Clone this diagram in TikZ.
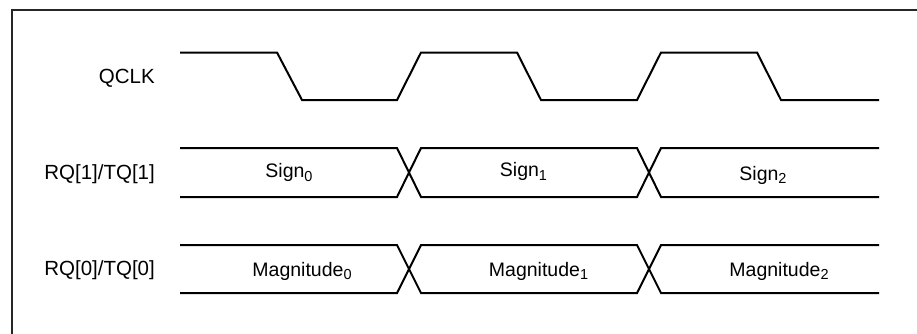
\documentclass[tikz,border=0pt]{standalone}
\usepackage{fontspec}
\setmainfont{Liberation Sans}
\newcommand\mysubs[1]{\raisebox{-3.5pt}{\fontsize{14.5}{15}\selectfont #1}}
\begin{document}
\begin{tikzpicture}[x=1pt,y=-1pt,
  wave/.style={line width=2pt, line join=miter},
  frame/.style={line width=1.8pt, draw=black!85},
  lbl/.style={font=\fontsize{20.5}{24}\selectfont, inner sep=0pt, anchor=base east},
  val/.style={font=\fontsize{19.5}{23}\selectfont, inner sep=0pt, anchor=base}]
\useasboundingbox (0,0) rectangle (917,333);
\clip (0,0) rectangle (917,333);
\draw[frame] (12,345) -- (12,10) -- (935,10);
% labels
\node[lbl] (qclk) at (155,83) {QCLK};
\node[lbl] (rq1) at (155,179) {RQ[1]/TQ[1]};
\node[lbl] (rq0) at (155,275.5) {RQ[0]/TQ[0]};
% clock
\draw[wave] (180,52.5)--(277,52.5)--(302,100)--(397,100)--(421,52.5)--(517,52.5)--(541,100)--(637,100)--(661,52.5)--(757,52.5)--(781,100)--(879,100);
% bus 1
\draw[wave] (180,148)--(397,148)--(421,197)--(637,197)--(661,148)--(879,148);
\draw[wave] (180,197)--(397,197)--(421,148)--(637,148)--(661,197)--(879,197);
% bus 0
\draw[wave] (180,245)--(397,245)--(421,293)--(637,293)--(661,245)--(879,245);
\draw[wave] (180,293)--(397,293)--(421,245)--(637,245)--(661,293)--(879,293);
% values
\node[val] (s0) at (289,177.5) {Sign\mysubs{0}};
\node[val] (s1) at (523.5,176.5) {Sign\mysubs{1}};
\node[val] (s2) at (763,180) {Sign\mysubs{2}};
\node[val] (m0) at (302,276) {Magnitude\mysubs{0}};
\node[val] (m1) at (538.5,276) {Magnitude\mysubs{1}};
\node[val] (m2) at (779,276) {Magnitude\mysubs{2}};
\end{tikzpicture}
\end{document}
